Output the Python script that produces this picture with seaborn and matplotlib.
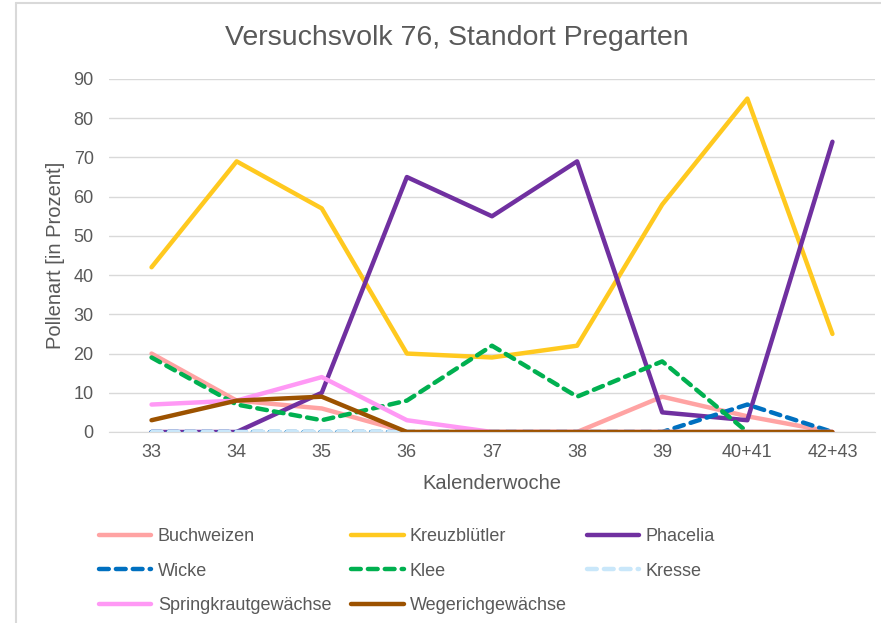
import pandas as pd
import seaborn as sns
from matplotlib import pyplot as plt
from matplotlib.lines import Line2D

# Kalenderwochen (x-Achse)
weeks = ["33", "34", "35", "36", "37", "38", "39", "40+41", "42+43"]

# Pollenanteile in Prozent
buchweizen = [20, 8, 6, 0, 0, 0, 9, 4, 0]
kreuzbluetler = [42, 69, 57, 20, 19, 22, 58, 85, 25]
phacelia = [0, 0, 10, 65, 55, 69, 5, 3, 74]
wicke = [0, 0, 0, 0, 0, 0, 0, 7, 0]
klee = [19, 7, 3, 8, 22, 9, 18, 0, None]
kresse = [0, 0, 0, 0, 0, 0, 0, 0, 0]
springkraut = [7, 8, 14, 3, 0, 0, 0, 0, 0]
wegerich = [3, 8, 9, 0, 0, 0, 0, 0, 0]

series_names = ["Buchweizen", "Kreuzblütler", "Phacelia", "Wicke", "Klee",
                "Kresse", "Springkrautgewächse", "Wegerichgewächse"]
series_values = [buchweizen, kreuzbluetler, phacelia, wicke, klee,
                 kresse, springkraut, wegerich]
colors = ["#FFA3A3", "#FFC91F", "#7030A0", "#0070C0", "#00B050",
          "#C9E7FA", "#FF99F5", "#9C5200"]
dashed = [False, False, False, True, True, True, False, False]

rows = []
for name, vals in zip(series_names, series_values):
    for i, v in enumerate(vals):
        rows.append({"Serie": name, "pos": i, "Wert": v})
df = pd.DataFrame(rows)

sns.set_style("white")
plt.rcParams["font.family"] = ["Liberation Sans", "DejaVu Sans"]
text_color = "#595959"

fig = plt.figure(figsize=(8.81, 6.23), dpi=100)
ax = fig.add_axes([0.1237, 0.3066, 0.8695, 0.5666])

handles = {}
for name, col, d in zip(series_names, colors, dashed):
    sub = df[df["Serie"] == name].dropna()
    ls = (0, (2.2, 1.6)) if d else "-"
    sns.lineplot(data=sub, x="pos", y="Wert", ax=ax, color=col, linewidth=3.2,
                 linestyle=ls, solid_capstyle="round", dash_capstyle="round")
    handles[name] = Line2D([0], [0], color=col, linewidth=3.2, linestyle=ls,
                           solid_capstyle="round", dash_capstyle="round")

ax.set_xlim(-0.5, len(weeks) - 0.5)
ax.set_ylim(0, 90)
ax.set_xticks(range(len(weeks)))
ax.set_xticklabels(weeks)
ax.set_yticks(range(0, 91, 10))
ax.yaxis.grid(True, color="#D9D9D9", linewidth=1)
ax.set_axisbelow(True)
for s in ["top", "right", "left"]:
    ax.spines[s].set_visible(False)
ax.spines["bottom"].set_color("#D9D9D9")
ax.tick_params(axis="both", length=0, labelsize=13, colors=text_color)
ax.tick_params(axis="x", pad=9)
ax.tick_params(axis="y", pad=11)

ax.set_xlabel("Kalenderwoche", fontsize=14.5, color=text_color, labelpad=9)
ax.set_ylabel("Pollenart [in Prozent]", fontsize=14.5, color=text_color, labelpad=6)
fig.text(457 / 881, 1 - 38 / 623, "Versuchsvolk 76, Standort Pregarten",
         fontsize=20.5, color=text_color, ha="center", va="center")

# Legende zeilenweise (matplotlib fuellt spaltenweise)
order = ["Buchweizen", "Wicke", "Springkrautgewächse",
         "Kreuzblütler", "Klee", "Wegerichgewächse",
         "Phacelia", "Kresse"]
fig.legend([handles[n] for n in order], order, loc="upper left",
           bbox_to_anchor=(0.1125, 0.152), ncol=3, frameon=False, fontsize=13,
           labelcolor=text_color, handlelength=2.9, handletextpad=0.35,
           columnspacing=1.1, labelspacing=0.97, borderpad=0, borderaxespad=0)

# Rahmen des Screenshots (links und oben)
fig.add_artist(Line2D([16 / 881, 16 / 881], [0, 1 - 3 / 623], color="#D9D9D9", linewidth=1.5))
fig.add_artist(Line2D([16 / 881, 1], [1 - 3 / 623, 1 - 3 / 623], color="#D9D9D9", linewidth=1.5))

fig.savefig("out.png", dpi=100)
